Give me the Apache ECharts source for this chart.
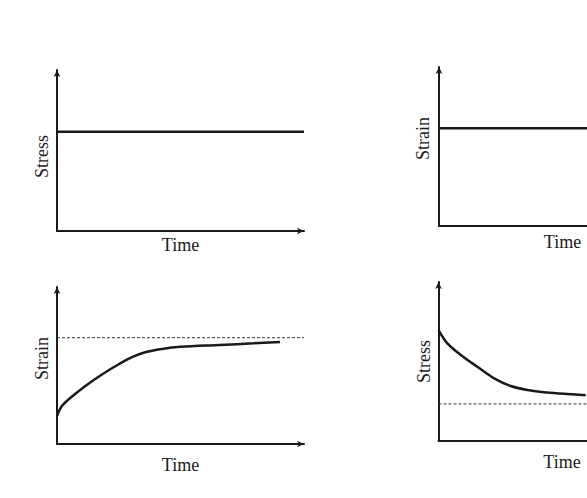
<!DOCTYPE html>
<html>
<head>
<meta charset="utf-8">
<script src="https://cdn.jsdelivr.net/npm/echarts@6/dist/echarts.min.js"></script>
<style>
html,body{margin:0;padding:0;background:#fff;}
#chart{width:587px;height:498px;}
</style>
</head>
<body>
<div id="chart"></div>
<script>
// ---- data (axis scale 0..100, arbitrary units) ----
var constStressTime = [0, 100];
var constStressValues = [61.7, 61.7];

var constStrainTime = [0, 100];
var constStrainValues = [61.4, 61.4];

var creepTime   = [0, 2.0, 6.1, 11.5, 18.2, 25.0, 30.4, 35.7, 42.5, 49.9, 66.0, 79.5, 90.3];
var creepStrain = [17.8, 24.2, 30.3, 37.0, 44.3, 50.8, 55.3, 58.4, 60.5, 61.9, 63.1, 64.1, 65.0];
var creepAsymptote = 67.7;

var relaxTime   = [0, 3.6, 9.0, 15.7, 22.5, 29.2, 36.0, 42.7, 52.1, 59.6];
var relaxStress = [69.8, 61.4, 54.1, 46.7, 39.4, 34.6, 32.1, 30.6, 29.6, 28.7];
var relaxAsymptote = 23.3;

var panelTitlesY = ['Stress', 'Strain', 'Strain', 'Stress'];
var panelTitlesX = ['Time', 'Time', 'Time', 'Time'];

function pairs(xs, ys) { return xs.map(function (x, i) { return [x, ys[i]]; }); }

var FONT = 'Liberation Serif';
var INK = '#1a1a1a';

var grids = [
  { left: 57,    top: 70,  width: 247, height: 161 },
  { left: 439,   top: 67,  width: 247, height: 159 },
  { left: 57,    top: 287, width: 247, height: 157 },
  { left: 438.5, top: 282, width: 247, height: 159 }
].map(function (g) { g.outerBoundsMode = 'none'; g.containLabel = false; return g; });
var xGaps = [5, 6.5, 12, 11.5];
var yGaps = [6.5, 7, 6.5, 5.5];
// padding [top,right,bottom,left] on rotated text: shifts label along axis
var yPads = [[0, 12, 0, 0], [0, 0, 0, 16], [0, 0, 0, 14], [0, 0, 0, 0]];

function axisLine() {
  return {
    show: true,
    lineStyle: { color: INK, width: 2 },
    symbol: ['none', 'arrow'],
    symbolSize: [5, 7]
  };
}

var xAxes = grids.map(function (g, i) {
  return {
    gridIndex: i, type: 'value', min: 0, max: 100,
    name: panelTitlesX[i], nameLocation: 'middle', nameGap: xGaps[i],
    nameTextStyle: { fontFamily: FONT, fontSize: 18, color: INK },
    axisLine: axisLine(), axisTick: { show: false },
    axisLabel: { show: false }, splitLine: { show: false }
  };
});
var yAxes = grids.map(function (g, i) {
  return {
    gridIndex: i, type: 'value', min: 0, max: 100,
    name: panelTitlesY[i], nameLocation: 'middle', nameGap: yGaps[i],
    nameTextStyle: { fontFamily: FONT, fontSize: 18, color: INK, padding: yPads[i] },
    axisLine: axisLine(), axisTick: { show: false },
    axisLabel: { show: false }, splitLine: { show: false }
  };
});

var mainLine = { color: INK, width: 2.5 };
var dashLine = { color: '#333', width: 1, type: [3, 2] };

var option = {
  animation: false,
  backgroundColor: '#fff',
  grid: grids,
  xAxis: xAxes,
  yAxis: yAxes,
  series: [
    { type: 'line', xAxisIndex: 0, yAxisIndex: 0, data: pairs(constStressTime, constStressValues),
      showSymbol: false, lineStyle: mainLine },
    { type: 'line', xAxisIndex: 1, yAxisIndex: 1, data: pairs(constStrainTime, constStrainValues),
      showSymbol: false, lineStyle: mainLine },
    { type: 'line', xAxisIndex: 2, yAxisIndex: 2, data: [[0, creepAsymptote], [100, creepAsymptote]],
      showSymbol: false, lineStyle: dashLine },
    { type: 'line', xAxisIndex: 2, yAxisIndex: 2, data: pairs(creepTime, creepStrain),
      showSymbol: false, smooth: 0.35, lineStyle: mainLine },
    { type: 'line', xAxisIndex: 3, yAxisIndex: 3, data: [[0, relaxAsymptote], [100, relaxAsymptote]],
      showSymbol: false, lineStyle: dashLine },
    { type: 'line', xAxisIndex: 3, yAxisIndex: 3, data: pairs(relaxTime, relaxStress),
      showSymbol: false, smooth: 0.3, lineStyle: mainLine }
  ]
};

var chart = echarts.init(document.getElementById('chart'), null, { renderer: 'svg' });
chart.setOption(option);
</script>
</body>
</html>
